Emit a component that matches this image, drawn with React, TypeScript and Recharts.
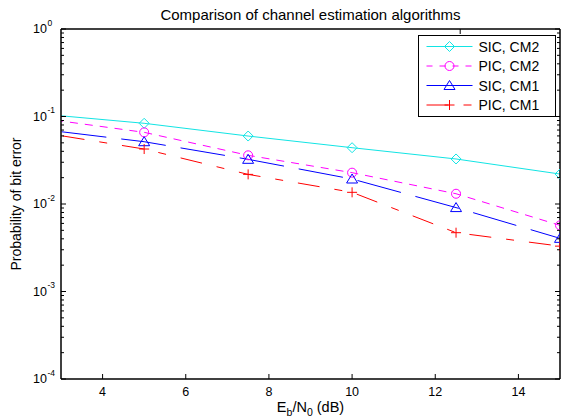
import React from 'react';
import { LineChart, Line, XAxis, YAxis, Legend, Label } from 'recharts';

// ---- data ----
const ebn0 = [2.5, 5, 7.5, 10, 12.5, 15];
const sicCm2 = [0.107, 0.0836, 0.0598, 0.044, 0.0327, 0.022];
const picCm2 = [0.0957, 0.0659, 0.036, 0.0228, 0.0131, 0.0057];
const sicCm1 = [0.0716, 0.0515, 0.0324, 0.0193, 0.0091, 0.00405];
const picCm1 = [0.0659, 0.0425, 0.0218, 0.0136, 0.0047, 0.0033];
const seriesNames = ['SIC, CM2', 'PIC, CM2', 'SIC, CM1', 'PIC, CM1'];
const xTicks = [4, 6, 8, 10, 12, 14];
const decades = [-4, -3, -2, -1, 0];
const titleText = 'Comparison of channel estimation algorithms';
const yLabelText = 'Probability of bit error';

const rows = ebn0.map((x, i) => ({
  x,
  sicCm2: sicCm2[i],
  picCm2: picCm2[i],
  sicCm1: sicCm1[i],
  picCm1: picCm1[i],
}));

const yTicks: number[] = [];
decades.forEach((d) => {
  if (d === 0) {
    yTicks.push(1);
  } else {
    for (let m = 1; m <= 9; m++) yTicks.push(Number((m * Math.pow(10, d)).toPrecision(6)));
  }
});

const FONT = '"Liberation Sans", Arial, Helvetica, sans-serif';
const AXIS = '#000';

type Kind = 'diamond' | 'circle' | 'triangle' | 'plus';

const series: { key: string; name: string; color: string; dash?: string; offset?: number; legendDash?: string; kind: Kind }[] = [
  { key: 'sicCm2', name: seriesNames[0], color: '#12e4e4', kind: 'diamond' },
  { key: 'picCm2', name: seriesNames[1], color: '#ff00ff', dash: '8 7', offset: 0, legendDash: '6 7', kind: 'circle' },
  { key: 'sicCm1', name: seriesNames[2], color: '#0000ff', dash: '45 15', offset: 38.4, kind: 'triangle' },
  { key: 'picCm1', name: seriesNames[3], color: '#ff0000', dash: '22 15 8 15', offset: 37.2, legendDash: '22 15 8 15', kind: 'plus' },
];

function shape(kind: Kind, cx: number, cy: number, color: string) {
  const common = { fill: 'none', stroke: color, strokeWidth: 1, strokeDasharray: 'none' };
  if (kind === 'diamond') {
    return <path d={`M${cx},${cy - 5}L${cx + 5},${cy}L${cx},${cy + 5}L${cx - 5},${cy}Z`} {...common} />;
  }
  if (kind === 'circle') {
    return <circle cx={cx} cy={cy} r={4.5} {...common} />;
  }
  if (kind === 'triangle') {
    return <path d={`M${cx},${cy - 5}L${cx + 5.5},${cy + 4}L${cx - 5.5},${cy + 4}Z`} {...common} />;
  }
  return <path d={`M${cx - 5},${cy}L${cx + 5},${cy}M${cx},${cy - 5}L${cx},${cy + 5}`} {...common} />;
}

const makeDot = (kind: Kind, color: string) => (p: any) => {
  const { cx, cy, index } = p;
  if (cx == null || cy == null || isNaN(cx) || isNaN(cy)) return <g key={`d-${index}`} />;
  return <g key={`d-${index}`}>{shape(kind, cx, cy, color)}</g>;
};

const isMajor = (v: number) => {
  const l = Math.log10(v);
  return Math.abs(l - Math.round(l)) < 1e-6;
};

const LeftTick = (p: any) => {
  const { x, y, payload } = p;
  const v = payload.value;
  const major = isMajor(v);
  const e = Math.round(Math.log10(v));
  return (
    <g>
      <line x1={x} x2={x + (major ? 5 : 3)} y1={y} y2={y} stroke={AXIS} strokeWidth={1} />
      {major && (
        <g fontFamily={FONT} fill="#000">
          <text x={x - 14} y={y + 4.3} textAnchor="end" fontSize={12.5}>10</text>
          <text x={x - 13.5} y={y - 3.5} textAnchor="start" fontSize={8.5}>{String(e)}</text>
        </g>
      )}
    </g>
  );
};

const RightTick = (p: any) => {
  const { x, y, payload } = p;
  const major = isMajor(payload.value);
  return <line x1={x} x2={x - (major ? 5 : 3)} y1={y} y2={y} stroke={AXIS} strokeWidth={1} />;
};

const BottomTick = (p: any) => {
  const { x, y, payload } = p;
  return (
    <g>
      <line x1={x} x2={x} y1={y} y2={y - 5} stroke={AXIS} strokeWidth={1} />
      <text x={x} y={y + 16.5} textAnchor="middle" fontSize={12.5} fontFamily={FONT} fill="#000">
        {String(payload.value)}
      </text>
    </g>
  );
};

const TopTick = (p: any) => {
  const { x, y } = p;
  return <line x1={x} x2={x} y1={y} y2={y + 5} stroke={AXIS} strokeWidth={1} />;
};

const TitleLabel = (p: any) => {
  const vb = p.viewBox || { x: 61, y: 0, width: 499, height: 29 };
  return (
    <text x={vb.x + vb.width / 2} y={vb.y + 19.5} textAnchor="middle" fontSize={15} fontFamily={FONT} fill="#000">
      {titleText}
    </text>
  );
};

const XLabel = (p: any) => {
  const vb = p.viewBox || { x: 61, y: 379, width: 499, height: 40 };
  return (
    <text x={vb.x + vb.width / 2} y={vb.y + 33} textAnchor="middle" fontSize={14.5} fontFamily={FONT} fill="#000">
      E<tspan fontSize={10.5} dy={3.5}>b</tspan>
      <tspan dy={-3.5}>/N</tspan>
      <tspan fontSize={10.5} dy={3.5}>0</tspan>
      <tspan dy={-3.5}> (dB)</tspan>
    </text>
  );
};

const YLabel = (p: any) => {
  const vb = p.viewBox || { x: 0, y: 29, width: 61, height: 350 };
  const cx = 20.5;
  const cy = vb.y + vb.height / 2;
  return (
    <text x={cx} y={cy} transform={`rotate(-90, ${cx}, ${cy})`} textAnchor="middle" fontSize={14} fontFamily={FONT} fill="#000">
      {yLabelText}
    </text>
  );
};

const LegendBox = () => {
  const rowsY = [10.5, 30, 49.5, 69];
  return (
    <div style={{ width: 138, height: 82, boxSizing: 'border-box', border: '1.5px solid #000', background: '#fff' }}>
      <svg width={135} height={79} style={{ display: 'block' }}>
        {series.map((s, i) => (
          <g key={s.key}>
            <line
              x1={7.5}
              x2={53.5}
              y1={rowsY[i]}
              y2={rowsY[i]}
              stroke={s.color}
              strokeWidth={1}
              strokeDasharray={s.legendDash || 'none'}
            />
            {shape(s.kind, 30.5, rowsY[i], s.color)}
            <text x={59.5} y={rowsY[i] + 5} fontSize={14} fontFamily={FONT} fill="#000">
              {s.name}
            </text>
          </g>
        ))}
      </svg>
    </div>
  );
};

export default function App() {
  return (
    <div style={{ position: 'absolute', left: 0, top: 0, width: 561, height: 419, background: '#fff' }}>
      <LineChart width={561} height={419} data={rows} margin={{ top: 0, right: 0, bottom: 0, left: 0 }}>
        <XAxis
          dataKey="x"
          type="number"
          domain={[3, 15]}
          allowDataOverflow
          ticks={xTicks}
          interval={0}
          height={40}
          tickSize={0}
          tickMargin={0}
          tickLine={false}
          axisLine={{ stroke: AXIS, strokeWidth: 1.5 }}
          tick={<BottomTick />}
        >
          <Label content={<XLabel />} />
        </XAxis>
        <XAxis
          xAxisId="top"
          orientation="top"
          type="number"
          domain={[3, 15]}
          allowDataOverflow
          ticks={xTicks}
          interval={0}
          height={29}
          tickSize={0}
          tickMargin={0}
          tickLine={false}
          axisLine={{ stroke: AXIS, strokeWidth: 1.5 }}
          tick={<TopTick />}
        >
          <Label content={<TitleLabel />} />
        </XAxis>
        <YAxis
          scale="log"
          type="number"
          domain={[1e-4, 1]}
          allowDataOverflow
          ticks={yTicks}
          interval={0}
          width={61}
          tickSize={0}
          tickMargin={0}
          tickLine={false}
          axisLine={{ stroke: AXIS, strokeWidth: 1.5 }}
          tick={<LeftTick />}
        >
          <Label content={<YLabel />} />
        </YAxis>
        <YAxis
          yAxisId="right"
          orientation="right"
          scale="log"
          type="number"
          domain={[1e-4, 1]}
          allowDataOverflow
          ticks={yTicks}
          interval={0}
          width={1}
          tickSize={0}
          tickMargin={0}
          tickLine={false}
          axisLine={{ stroke: AXIS, strokeWidth: 1.5 }}
          tick={<RightTick />}
        />
        {series.map((s) => (
          <Line
            key={s.key}
            dataKey={s.key}
            name={s.name}
            type="linear"
            stroke={s.color}
            strokeWidth={1}
            strokeDasharray={s.dash}
            strokeDashoffset={s.offset}
            dot={makeDot(s.kind, s.color)}
            activeDot={false}
            isAnimationActive={false}
          />
        ))}
        <Legend
          layout="vertical"
          align="center"
          verticalAlign="middle"
          wrapperStyle={{ position: 'absolute', left: 418, top: 35, width: 138, height: 82 }}
          content={<LegendBox />}
        />
      </LineChart>
    </div>
  );
}
